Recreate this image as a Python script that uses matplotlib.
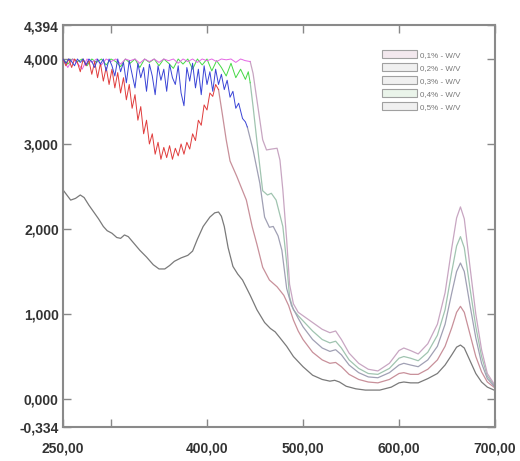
import matplotlib
matplotlib.use("Agg")
import matplotlib.pyplot as plt
import numpy as np
from matplotlib.patches import Patch

# ---------------- data ----------------
labels = ["0,1% - W/V", "0,2% - W/V", "0,3% - W/V", "0,4% - W/V", "0,5% - W/V"]

# 0.1 % (lowest, dark grey)
c1_x = [250, 254, 258, 263, 268, 272, 277, 282, 287, 292, 296, 301, 306, 310, 314, 318, 324, 330,
        337, 344, 350, 356, 361, 366, 373, 380, 385, 390, 396, 403, 408, 412, 415, 418, 422, 427,
        432, 437, 445, 452, 460, 466, 471, 476, 483, 490, 500, 510, 520, 528, 533, 538, 545, 555,
        565, 580, 592, 600, 605, 612, 620, 630, 640, 648, 655, 660, 664, 668, 674, 680, 686, 692, 700]
c1_y = [2.46, 2.40, 2.34, 2.36, 2.40, 2.37, 2.28, 2.20, 2.12, 2.03, 1.98, 1.95, 1.90, 1.89, 1.93,
        1.91, 1.83, 1.75, 1.67, 1.58, 1.53, 1.53, 1.57, 1.62, 1.66, 1.69, 1.74, 1.88, 2.03, 2.14,
        2.19, 2.20, 2.15, 2.03, 1.78, 1.56, 1.47, 1.40, 1.22, 1.05, 0.90, 0.83, 0.79, 0.72, 0.62,
        0.50, 0.38, 0.28, 0.23, 0.21, 0.22, 0.20, 0.15, 0.12, 0.105, 0.105, 0.14, 0.19, 0.20, 0.19,
        0.19, 0.24, 0.30, 0.40, 0.52, 0.61, 0.635, 0.60, 0.45, 0.30, 0.20, 0.14, 0.10]

# 0.2 % (red)
c2_x = [250, 253, 256, 259, 262, 265, 268, 271, 274, 277, 280, 283, 286, 289, 292, 295, 298, 301,
        304, 307, 310, 313, 316, 319, 322, 325, 328, 331, 334, 337, 340, 343, 346, 349, 352, 355,
        358, 361, 364, 367, 370, 373, 376, 379, 382, 385, 388, 391, 394, 397, 400, 403, 406, 409,
        412, 416, 420, 424, 431, 441, 447, 452, 458, 465, 473, 480, 485, 490, 495, 500, 510, 520,
        528, 534, 540, 548, 558, 568, 578, 590, 600, 605, 612, 620, 630, 640, 648, 655, 660, 664,
        668, 674, 680, 686, 692, 700]
c2_y = [4.00, 3.92, 4.00, 3.90, 4.00, 3.96, 3.85, 4.00, 3.92, 3.98, 3.82, 3.97, 3.78, 3.95, 3.74,
        3.90, 3.70, 3.88, 3.66, 3.84, 3.60, 3.78, 3.52, 3.70, 3.42, 3.58, 3.28, 3.44, 3.12, 3.28,
        3.00, 3.12, 2.88, 3.02, 2.82, 2.96, 2.84, 2.98, 2.82, 2.95, 2.86, 3.00, 2.88, 3.02, 2.94,
        3.12, 3.04, 3.28, 3.22, 3.46, 3.40, 3.60, 3.56, 3.70, 3.64, 3.35, 3.05, 2.80, 2.62, 2.34,
        2.03, 1.82, 1.55, 1.40, 1.32, 1.22, 1.10, 0.93, 0.80, 0.70, 0.55, 0.46, 0.42, 0.43, 0.38,
        0.29, 0.23, 0.20, 0.19, 0.23, 0.30, 0.31, 0.29, 0.29, 0.35, 0.46, 0.62, 0.84, 1.02, 1.09,
        1.02, 0.76, 0.50, 0.32, 0.20, 0.13]

# 0.3 % (blue)
c3_x = [250, 253, 256, 259, 262, 265, 268, 271, 274, 277, 280, 283, 286, 289, 292, 295, 298, 301,
        304, 307, 310, 313, 316, 319, 322, 325, 328, 331, 334, 337, 340, 343, 346, 349, 352, 355,
        358, 361, 364, 367, 370, 373, 376, 379, 382, 385, 388, 391, 394, 397, 400, 403, 406, 409,
        412, 415, 418, 421, 424, 427, 430, 433, 437, 440, 442, 448, 455, 460, 465, 469, 474, 478,
        483, 488, 495, 500, 510, 520, 528, 534, 540, 548, 558, 568, 578, 590, 600, 605, 612, 620,
        630, 640, 648, 655, 660, 664, 668, 674, 680, 686, 692, 700]
c3_y = [4.00, 3.95, 4.00, 3.97, 3.92, 4.00, 3.96, 4.00, 3.93, 4.00, 3.97, 3.90, 4.00, 3.94, 4.00,
        3.86, 4.00, 3.92, 3.80, 4.00, 3.85, 3.96, 3.72, 3.98, 3.82, 3.66, 3.95, 3.78, 3.90, 3.62,
        3.94, 3.80, 3.58, 3.92, 3.75, 3.88, 3.62, 3.94, 3.78, 3.70, 3.92, 3.60, 3.45, 3.90, 3.74,
        3.95, 3.66, 3.88, 3.58, 3.92, 3.70, 3.85, 3.62, 3.88, 3.70, 3.82, 3.64, 3.75, 3.55, 3.62,
        3.42, 3.48, 3.30, 3.26, 3.20, 2.93, 2.54, 2.14, 2.02, 2.03, 1.92, 1.75, 1.30, 1.10, 0.95,
        0.85, 0.70, 0.60, 0.56, 0.58, 0.52, 0.40, 0.31, 0.26, 0.25, 0.31, 0.40, 0.42, 0.40, 0.38,
        0.46, 0.62, 0.88, 1.25, 1.50, 1.60, 1.50, 1.10, 0.72, 0.42, 0.24, 0.14]

# 0.4 % (green)
c4_x = [250, 255, 260, 265, 270, 275, 280, 285, 290, 295, 300, 305, 310, 315, 320, 325, 330, 335,
        340, 345, 350, 355, 360, 365, 370, 375, 380, 385, 390, 395, 400, 405, 410, 415, 420, 425,
        430, 435, 440, 443, 445, 448, 453, 458, 463, 467, 472, 479, 483, 486, 490, 495, 500, 510,
        520, 528, 534, 540, 548, 558, 568, 578, 590, 600, 605, 612, 620, 630, 640, 648, 655, 660,
        664, 668, 674, 680, 686, 692, 700]
c4_y = [4.00, 3.94, 4.00, 3.97, 4.00, 3.92, 4.00, 3.96, 4.00, 3.93, 4.00, 3.97, 3.91, 4.00, 3.95,
        4.00, 3.90, 4.00, 3.96, 4.00, 3.92, 4.00, 3.95, 3.89, 4.00, 3.94, 4.00, 3.88, 4.00, 3.93,
        4.00, 3.86, 3.98, 3.90, 3.80, 3.95, 3.78, 3.88, 3.76, 3.85, 3.72, 3.44, 2.93, 2.45, 2.40,
        2.42, 2.34, 2.03, 1.60, 1.20, 1.05, 0.98, 0.92, 0.80, 0.70, 0.66, 0.68, 0.60, 0.46, 0.36,
        0.30, 0.29, 0.36, 0.48, 0.50, 0.48, 0.45, 0.55, 0.75, 1.05, 1.50, 1.80, 1.91, 1.78, 1.30,
        0.85, 0.50, 0.27, 0.15]

# 0.5 % (pink)
c5_x = [250, 255, 260, 265, 270, 275, 280, 285, 290, 295, 300, 305, 310, 315, 320, 325, 330, 335,
        340, 345, 350, 355, 360, 365, 370, 375, 380, 385, 390, 395, 400, 405, 410, 415, 420, 425,
        430, 435, 440, 445, 448, 453, 458, 462, 467, 473, 476, 479, 483, 486, 490, 495, 500, 510,
        520, 528, 534, 540, 548, 558, 568, 578, 590, 600, 605, 612, 620, 630, 640, 648, 655, 660,
        664, 668, 674, 680, 686, 692, 700]
c5_y = [4.00, 3.90, 4.00, 3.95, 3.88, 4.00, 3.96, 4.00, 3.93, 4.00, 3.97, 4.00, 3.94, 4.00, 3.98,
        4.00, 3.95, 4.00, 3.97, 4.00, 3.96, 4.00, 3.98, 4.00, 3.95, 4.00, 3.97, 4.00, 3.96, 4.00,
        3.98, 4.00, 3.97, 4.00, 3.99, 4.00, 3.96, 4.00, 3.98, 3.97, 3.83, 3.44, 3.05, 2.93, 2.94,
        2.95, 2.81, 2.46, 1.87, 1.35, 1.12, 1.02, 0.98, 0.90, 0.82, 0.78, 0.80, 0.70, 0.54, 0.42,
        0.35, 0.33, 0.42, 0.57, 0.60, 0.57, 0.53, 0.65, 0.88, 1.25, 1.78, 2.13, 2.26, 2.12, 1.55,
        1.00, 0.58, 0.30, 0.16]

x_ticks = [250, 300, 400, 500, 600, 700]
x_tick_labels = ["250,00", "", "400,00", "500,00", "600,00", "700,00"]
y_ticks = [-0.334, 0, 1, 2, 3, 4, 4.394]
y_tick_labels = ["-0,334", "0,000", "1,000", "2,000", "3,000", "4,000", "4,394"]

# ---------------- style ----------------
vivid = ["#7a7a7a", "#e03c3c", "#3a44d6", "#45d845", "#e466e4"]
muted = ["#7a7a7a", "#c8909a", "#a0a0b4", "#a0c4b0", "#c8a6c2"]
vivid_end = [None, 414, 442, 445, 447]
legend_fill = ["#f3e8ee", "#f0f0f0", "#f0f0f0", "#eaf4ea", "#f0f0f0"]

plt.rcParams["font.family"] = ["Liberation Sans", "DejaVu Sans"]

fig = plt.figure(figsize=(5.2, 4.61), dpi=100)
ax = fig.add_axes([63 / 520, 1 - 427.4 / 461, 432 / 520, (427.4 - 25.5) / 461])

curves = [(c1_x, c1_y), (c2_x, c2_y), (c3_x, c3_y), (c4_x, c4_y), (c5_x, c5_y)]
order = [0, 3, 4, 1, 2]
for i in order:
    x = np.array(curves[i][0], dtype=float)
    y = np.array(curves[i][1], dtype=float)
    if vivid_end[i] is None:
        ax.plot(x, y, color=vivid[i], lw=0.9, zorder=2)
    else:
        m1 = x <= vivid_end[i]
        k = np.searchsorted(x, vivid_end[i], side="right")
        ax.plot(x[k - 1:], y[k - 1:], color=muted[i], lw=0.9, zorder=2)
        ax.plot(x[m1], y[m1], color=vivid[i], lw=0.7, zorder=3)

ax.set_xlim(250, 700)
ax.set_ylim(-0.334, 4.394)

ax.set_xticks(x_ticks)
ax.set_xticklabels(x_tick_labels)
ax.set_yticks(y_ticks)
ax.set_yticklabels(y_tick_labels)

for lab in ax.get_xticklabels() + ax.get_yticklabels():
    lab.set_fontweight("bold")
    lab.set_fontsize(10)
    lab.set_color("#333333")

ax.tick_params(axis="both", direction="in", length=6, width=1.0, color="#888888",
               top=True, right=True)
ax.tick_params(axis="x", pad=10)
ax.tick_params(axis="y", pad=3)
for s in ax.spines.values():
    s.set_color("#8a8a8a")
    s.set_linewidth(1.5)

handles = [Patch(facecolor=legend_fill[i], edgecolor="#a0a0a0", lw=0.8) for i in range(5)]
leg = ax.legend(handles, labels, loc="upper left", bbox_to_anchor=(0.73, 0.948),
                frameon=False, fontsize=5.8, handlelength=4.4, handleheight=1.25,
                labelspacing=0.5, handletextpad=0.35, borderaxespad=0)
for t in leg.get_texts():
    t.set_color("#777777")

fig.savefig("out.png", dpi=100)
